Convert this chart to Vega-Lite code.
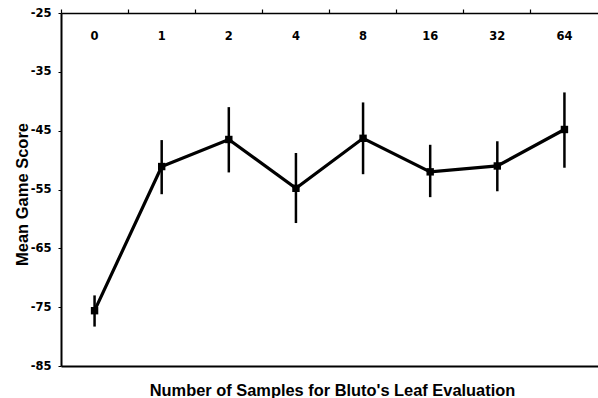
{
  "$schema": "https://vega.github.io/schema/vega-lite/v6.json",
  "autosize": {"type": "none"},
  "padding": {"left": 61, "top": 13, "right": 0, "bottom": 32},
  "width": 537,
  "height": 353,
  "background": "white",
  "config": {
    "view": {"stroke": null},
    "axis": {"domainColor": "black", "tickColor": "black", "labelColor": "black", "titleColor": "black", "grid": false}
  },
  "data": {
    "values": [
      {"n": 0, "mean": -75.6, "lo": -78.3, "hi": -73.0},
      {"n": 1, "mean": -51.1, "lo": -55.8, "hi": -46.6},
      {"n": 2, "mean": -46.5, "lo": -52.1, "hi": -41.0},
      {"n": 4, "mean": -54.8, "lo": -60.7, "hi": -48.8},
      {"n": 8, "mean": -46.3, "lo": -52.4, "hi": -40.2},
      {"n": 16, "mean": -52.0, "lo": -56.3, "hi": -47.4},
      {"n": 32, "mean": -51.0, "lo": -55.3, "hi": -46.8},
      {"n": 64, "mean": -44.8, "lo": -51.3, "hi": -38.5}
    ]
  },
  "resolve": {"axis": {"x": "independent"}},
  "layer": [
    {
      "mark": {"type": "rule", "color": "black", "strokeWidth": 2.5},
      "encoding": {
        "x": {
          "field": "n", "type": "ordinal", "bandPosition": 0.5,
          "scale": {"type": "band", "paddingInner": 0, "paddingOuter": 0},
          "axis": {
            "orient": "bottom", "labels": false, "ticks": false, "domain": true, "domainWidth": 2,
            "title": "Number of Samples for Bluto's Leaf Evaluation",
            "titleFont": "Liberation Sans", "titleFontWeight": "bold", "titleFontSize": 16.4,
            "titleBaseline": "alphabetic", "titleY": 29, "titleX": 271, "titleAlign": "center", "titleAnchor": null
          }
        },
        "y": {
          "field": "lo", "type": "quantitative",
          "scale": {"domain": [-85, -25], "nice": false, "zero": false},
          "axis": {
            "values": [-85, -75, -65, -55, -45, -35, -25],
            "labelExpr": "'-' + toString(abs(datum.value))",
            "labelFont": "DejaVu Sans", "labelFontWeight": "bold", "labelFontSize": 11.5,
            "tickSize": 3, "tickWidth": 1, "labelPadding": 7, "domainWidth": 2,
            "title": "Mean Game Score",
            "titleFont": "Liberation Sans", "titleFontWeight": "bold", "titleFontSize": 16.5,
            "titleAngle": -90, "titleBaseline": "alphabetic", "titleAlign": "center",
            "titleX": -34, "titleY": 181, "titleAnchor": null
          }
        },
        "y2": {"field": "hi"}
      }
    },
    {
      "mark": {"type": "line", "color": "black", "strokeWidth": 3.2},
      "encoding": {
        "x": {"field": "n", "type": "ordinal", "bandPosition": 0.5, "axis": null},
        "y": {"field": "mean", "type": "quantitative"}
      }
    },
    {
      "mark": {"type": "point", "shape": "square", "filled": true, "color": "black", "opacity": 1, "size": 55},
      "encoding": {
        "x": {
          "field": "n", "type": "ordinal", "bandPosition": 0.5,
          "axis": {
            "orient": "top", "title": null, "bandPosition": 0,
            "labelFont": "DejaVu Sans", "labelFontWeight": "bold", "labelFontSize": 11.5, "labelAngle": 0,
            "labelBaseline": "alphabetic", "labelPadding": -30, "tickSize": 4, "tickWidth": 1.2,
            "labelOverlap": false, "labelFlush": false, "labelBound": false, "domainWidth": 1.5
          }
        },
        "y": {"field": "mean", "type": "quantitative"}
      }
    }
  ]
}
